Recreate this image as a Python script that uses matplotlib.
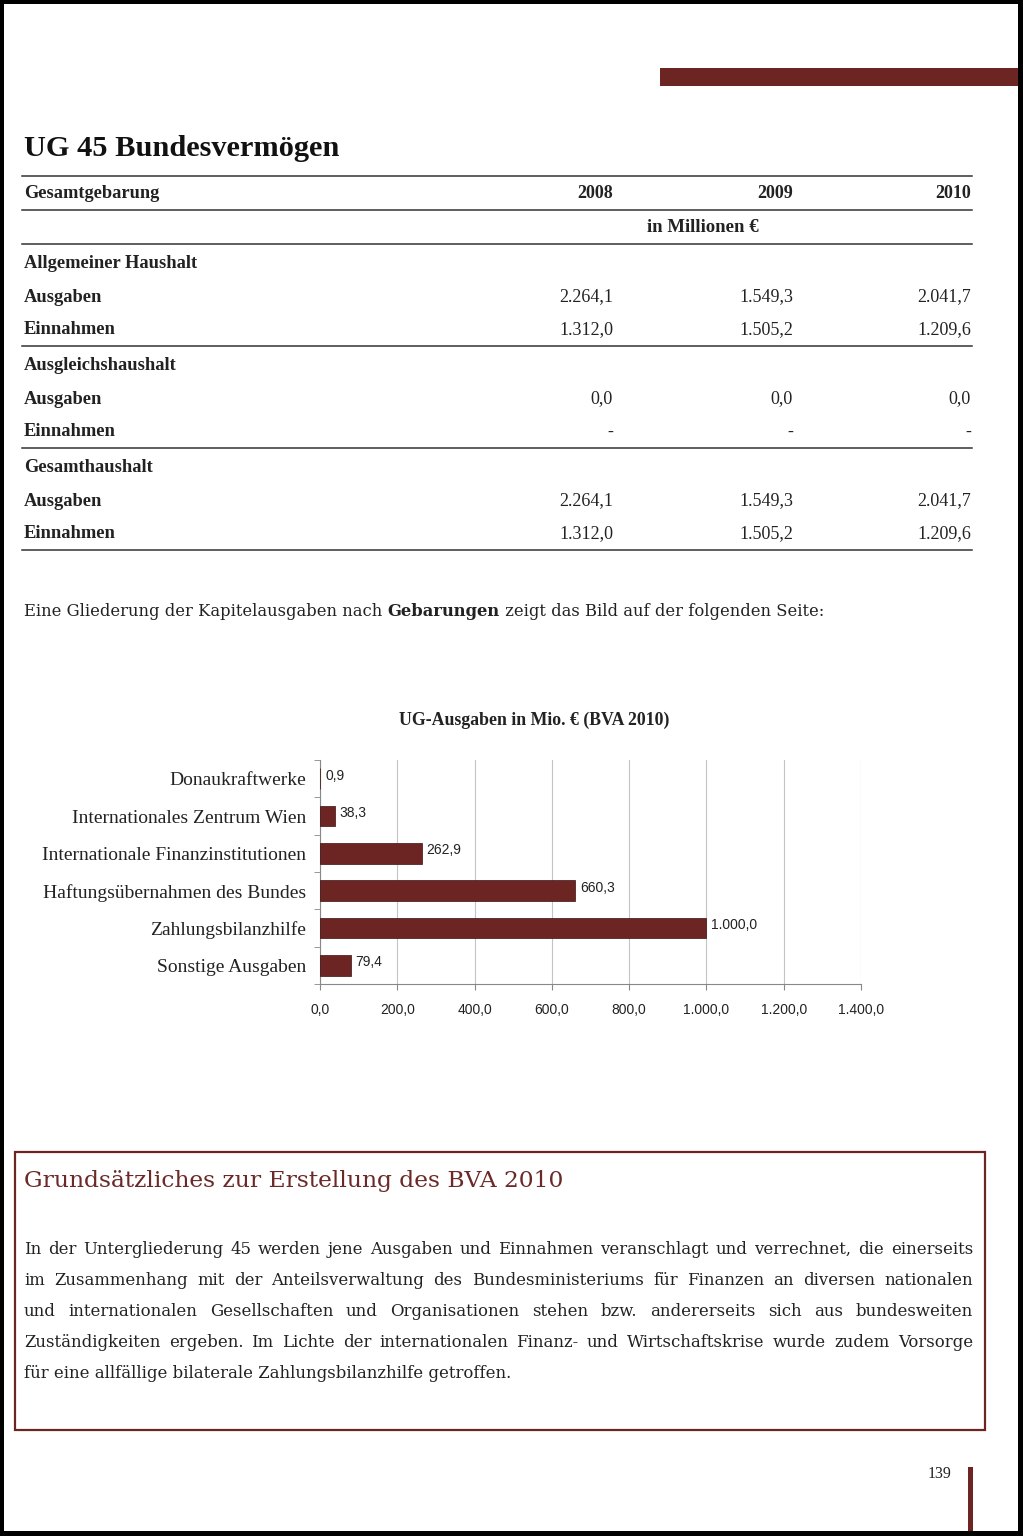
import numpy as np
import matplotlib
matplotlib.use("Agg")
import matplotlib.pyplot as plt
from matplotlib.patches import Rectangle

# --- data -----------------------------------------------------------------
years = ["2008", "2009", "2010"]
haushalte = ["Allgemeiner Haushalt", "Ausgleichshaushalt", "Gesamthaushalt"]
ausgaben = [["2.264,1", "1.549,3", "2.041,7"],
            ["0,0", "0,0", "0,0"],
            ["2.264,1", "1.549,3", "2.041,7"]]
einnahmen = [["1.312,0", "1.505,2", "1.209,6"],
             ["-", "-", "-"],
             ["1.312,0", "1.505,2", "1.209,6"]]

categories = ["Donaukraftwerke", "Internationales Zentrum Wien",
              "Internationale Finanzinstitutionen", "Haftungsübernahmen des Bundes",
              "Zahlungsbilanzhilfe", "Sonstige Ausgaben"]
values = [0.9, 38.3, 262.9, 660.3, 1000.0, 79.4]
value_labels = ["0,9", "38,3", "262,9", "660,3", "1.000,0", "79,4"]
xticks = [0, 200, 400, 600, 800, 1000, 1200, 1400]
xtick_labels = ["0,0", "200,0", "400,0", "600,0", "800,0", "1.000,0", "1.200,0", "1.400,0"]

paragraph = [
    "In der Untergliederung 45 werden jene Ausgaben und Einnahmen veranschlagt und verrechnet, die einerseits",
    "im Zusammenhang mit der Anteilsverwaltung des Bundesministeriums für Finanzen an diversen nationalen",
    "und internationalen Gesellschaften und Organisationen stehen bzw. andererseits sich aus bundesweiten",
    "Zuständigkeiten ergeben. Im Lichte der internationalen Finanz- und Wirtschaftskrise wurde zudem Vorsorge",
    "für eine allfällige bilaterale Zahlungsbilanzhilfe getroffen.",
]

SERIF = ["Liberation Serif", "DejaVu Serif"]
BODY = ["DejaVu Serif"]
NARROW = ["Liberation Sans Narrow", "Liberation Sans", "DejaVu Sans"]
MAROON = "#6c2522"
TXT = "#222222"

W, H = 1023, 1536
fig = plt.figure(figsize=(W / 100, H / 100), dpi=100)
fig.patch.set_facecolor("white")

# page axes in pixel coordinates
pg = fig.add_axes([0, 0, 1, 1])
pg.set_xlim(0, W)
pg.set_ylim(H, 0)
pg.axis("off")

renderer = fig.canvas.get_renderer()


def put(x, y, s, size, weight="normal", ha="left", color=TXT, family=SERIF):
    return pg.text(x, y, s, fontsize=size, fontweight=weight, ha=ha, va="center",
                   color=color, family=family)


def width(s, size, weight="normal", family=SERIF):
    t = pg.text(0, 0, s, fontsize=size, fontweight=weight, family=family)
    w = t.get_window_extent(renderer).width
    t.remove()
    return w


def fit(s, target, weight="normal", family=SERIF):
    # font size so that s is about target px wide
    return 10 * target / width(s, 10, weight, family)


# scan border + decoration
for r in [(0, 0, W, 4), (0, 0, 4, H), (1018, 0, 5, H), (0, 1531, W, 5)]:
    pg.add_patch(Rectangle(r[:2], r[2], r[3], color="black", lw=0, zorder=5))
pg.add_patch(Rectangle((660, 68), 358, 18, color=MAROON, lw=0))
pg.add_patch(Rectangle((968, 1467), 5, 65, color=MAROON, lw=0))
put(940, 1474, "139", 11.5, ha="center")

# --- table ------------------------------------------------------------------
title = "UG 45 Bundesvermögen"
put(24, 148, title, fit(title, 317, "bold"), weight="bold", color="#111111")
for yl in [176, 210, 244, 346, 448, 550]:
    pg.plot([22, 972], [yl, yl], color="#333333", lw=1.1)

col_x = [613, 793, 971]
put(24, 193, "Gesamtgebarung", 13.2, weight="bold")
for cx, yr in zip(col_x, years):
    put(cx, 193, yr, 13, weight="bold", ha="right")
put(703, 228, "in Millionen €", 13.5, weight="bold", ha="center")

for i, name in enumerate(haushalte):
    y0 = 263 + 102 * i
    put(24, y0, name, 13.3, weight="bold")
    put(24, y0 + 34, "Ausgaben", 13.3, weight="bold")
    put(24, y0 + 67, "Einnahmen", 13.3, weight="bold")
    for cx, a, e in zip(col_x, ausgaben[i], einnahmen[i]):
        put(cx, y0 + 34, a, 13, ha="right")
        put(cx, y0 + 67, e, 13, ha="right")

# sentence with bold word
parts = [("Eine Gliederung der Kapitelausgaben nach ", "normal"),
         ("Gebarungen", "bold"),
         (" zeigt das Bild auf der folgenden Seite:", "normal")]
full = 0
for s, wgt in parts:
    full += width(s, 10, wgt, BODY)
sz = 10 * 804 / full
x = 24
for s, wgt in parts:
    put(x, 612, s, sz, weight=wgt, family=BODY)
    x += width(s, sz, wgt, BODY)

# --- bar chart --------------------------------------------------------------
ax = fig.add_axes([320 / W, 1 - 984 / H, 541 / W, 224 / H])
ypos = np.arange(len(categories))
ax.barh(ypos, values, height=0.55, color=MAROON, edgecolor="#3a1010", lw=0.5, zorder=3)
ax.set_xlim(0, 1400)
ax.set_ylim(len(categories) - 0.5, -0.5)
ax.set_xticks(xticks)
ax.set_xticklabels(xtick_labels, family=NARROW, fontsize=10, color=TXT)
ax.set_yticks(ypos)
ax.set_yticklabels(categories, family=SERIF, fontsize=14, color=TXT)
ax.set_yticks(np.arange(len(categories) + 1) - 0.5, minor=True)
ax.tick_params(axis="y", which="major", length=0, pad=10)
ax.tick_params(axis="y", which="minor", length=4, color="#888888")
ax.tick_params(axis="x", length=4, color="#888888", pad=10)
ax.grid(axis="x", color="#c4c4c4", lw=0.8, zorder=0)
for sp in ["top", "right"]:
    ax.spines[sp].set_visible(False)
for sp in ["left", "bottom"]:
    ax.spines[sp].set_color("#888888")
    ax.spines[sp].set_linewidth(0.8)
for yp, v, lab in zip(ypos, values, value_labels):
    ax.annotate(lab, (v, yp), xytext=(5, 3), textcoords="offset pixels",
                ha="left", va="center", family=NARROW, fontsize=10, color=TXT)
ax.set_title("UG-Ausgaben in Mio. € (BVA 2010)", family=SERIF, fontweight="bold",
             fontsize=12.8, color=TXT, pad=25, x=0.395)

# --- text box ---------------------------------------------------------------
pg.add_patch(Rectangle((15, 1152), 970, 278, fill=False, edgecolor=MAROON, lw=1.6))
box_title = "Grundsätzliches zur Erstellung des BVA 2010"
put(24, 1181, box_title, fit(box_title, 542, family=BODY), color="#6b2a28", family=BODY)

x0, x1 = 24, 973
psz = fit(paragraph[-1], 491, family=BODY)
for k, line in enumerate(paragraph):
    y = 1249 + 31.2 * k
    words = line.split()
    if k == len(paragraph) - 1:
        put(x0, y, line, psz, family=BODY)
        continue
    ws = [width(w, psz, family=BODY) for w in words]
    gap = (x1 - x0 - sum(ws)) / (len(words) - 1)
    x = x0
    for w, wd in zip(words, ws):
        put(x, y, w, psz, family=BODY)
        x += wd + gap

fig.savefig("out.png", dpi=100, facecolor="white")
